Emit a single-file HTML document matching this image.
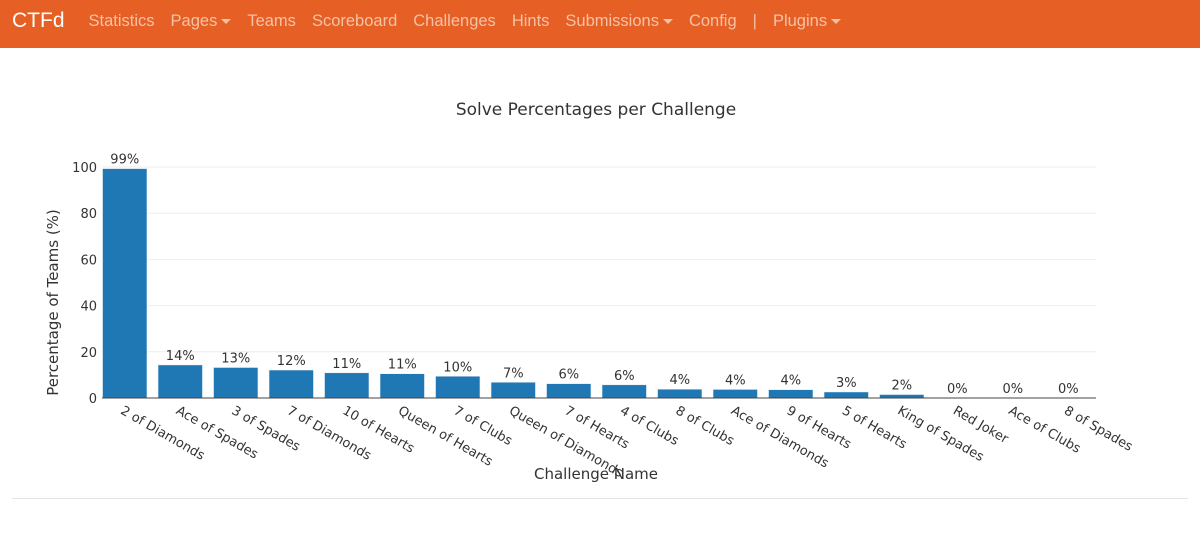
<!DOCTYPE html>
<html><head><meta charset="utf-8"><style>
body{margin:0;width:1200px;height:536px;background:#fff;font-family:"Liberation Sans",sans-serif;overflow:hidden;position:relative}
.nav{height:48px;background:#e65f24;display:flex;align-items:center;color:#f6c2a6;font-size:16.5px;padding-bottom:6px;box-sizing:border-box}
.nav span{margin-right:16px;white-space:nowrap}
.brand{color:#fff;font-size:21px;margin-left:12px;margin-right:24px!important}
.caret{display:inline-block;width:0;height:0;border-left:5px solid transparent;border-right:5px solid transparent;border-top:5px solid #f6c2a6;vertical-align:middle;margin-left:4px}
hr{position:absolute;left:12px;width:1176px;top:498px;margin:0;border:0;border-top:1px solid #e4e4e4}
svg text{font-family:"DejaVu Sans","Liberation Sans",sans-serif;fill:#333}
</style></head><body>
<div class="nav">
<span class="brand">CTFd</span>
<span>Statistics</span>
<span>Pages<i class="caret"></i></span>
<span>Teams</span>
<span>Scoreboard</span>
<span>Challenges</span>
<span>Hints</span>
<span>Submissions<i class="caret"></i></span>
<span>Config</span>
<span>|</span>
<span>Plugins<i class="caret"></i></span>
</div>
<svg id="chart" width="1200" height="488" style="position:absolute;left:0;top:48px"></svg>
<hr>
<script>
const categories=["2 of Diamonds","Ace of Spades","3 of Spades","7 of Diamonds","10 of Hearts","Queen of Hearts","7 of Clubs","Queen of Diamonds","7 of Hearts","4 of Clubs","8 of Clubs","Ace of Diamonds","9 of Hearts","5 of Hearts","King of Spades","Red Joker","Ace of Clubs","8 of Spades"];
const values=[99.3,14.3,13.2,12.1,10.9,10.5,9.4,6.8,6.2,5.7,3.8,3.7,3.6,2.6,1.5,0,0,0];
const valueLabels=["99%","14%","13%","12%","11%","11%","10%","7%","6%","6%","4%","4%","4%","3%","2%","0%","0%","0%"];
const yTicks=[0,20,40,60,80,100];
const NS="http://www.w3.org/2000/svg";
const svg=document.getElementById('chart');
const X0=97,X1=1096,AX0=102,Y0=350,Y100=119;
const step=(X1-X0)/categories.length;
function xc(i){return X0+step*(i+0.5);}
function y(v){return Y0-(Y0-Y100)*v/100;}
function mk(tag,attrs,txt){const e=document.createElementNS(NS,tag);for(const k in attrs)e.setAttribute(k,attrs[k]);if(txt!==undefined)e.textContent=txt;svg.appendChild(e);return e;}
let t=mk('text',{x:596,y:67,'text-anchor':'middle','font-size':17},'Solve Percentages per Challenge');


yTicks.forEach(v=>{
  if(v>0){const g=mk('line',{x1:AX0,x2:X1,y1:y(v),y2:y(v),stroke:'#eee','stroke-width':1});
  
  }
  const l=mk('text',{x:97,y:y(v)+5,'text-anchor':'end','font-size':13},String(v));
  
  
});
const bw=step*0.8;
categories.forEach((c,i)=>{
  const v=values[i];
  const r=mk('rect',{x:xc(i)-bw/2,y:y(v),width:bw,height:Math.max(0,Y0-y(v)),fill:'#1f77b4',stroke:'#e8eef5','stroke-width':0.5});
  
  
  const vl=mk('text',{x:xc(i),y:y(v)-5,'text-anchor':'middle','font-size':13},valueLabels[i]);
  
  
  const tl=mk('text',{x:0,y:0,'font-size':13,transform:`translate(${xc(i)-5},${Y0+15}) rotate(30)`},c);
  
  
});
const ax=mk('line',{x1:AX0,x2:X1,y1:Y0,y2:Y0,stroke:'#444','stroke-width':1});


const xt=mk('text',{x:596,y:431,'text-anchor':'middle','font-size':15},'Challenge Name');


const yt=mk('text',{x:0,y:0,'text-anchor':'middle','font-size':15,transform:`translate(58,${(Y0+Y100)/2+20}) rotate(-90)`},'Percentage of Teams (%)');


</script>
</body></html>
